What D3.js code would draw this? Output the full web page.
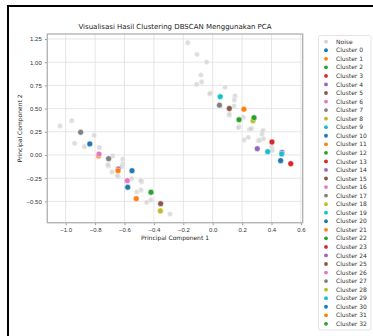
<!DOCTYPE html>
<html>
<head>
<meta charset="utf-8">
<script src="https://cdn.jsdelivr.net/npm/d3@7"></script>
<style>
  body { margin: 0; background: #fff; }
  svg { display: block; font-family: "DejaVu Sans", sans-serif; }
</style>
</head>
<body>
<div id="chart"></div>
<script>
// noise points (label -1)
const noiseX = [-1.039, -0.959, -0.939, -0.873, -0.807, -0.771, -0.68, -0.612, -0.71, -0.712, -0.685, -0.612,
  -0.619, -0.642, -0.648, -0.551, -0.483, -0.49, -0.488, -0.517, -0.42, -0.449, -0.29,
  -0.17, -0.107, -0.041, -0.08, -0.075, -0.109, -0.014, -0.02, 0.084, 0.152, 0.147, 0.145, 0.113, 0.113,
  0.208, 0.179, 0.175, 0.249, 0.265, 0.258, 0.344, 0.338, 0.335, 0.242, 0.213, 0.31, 0.32, 0.345, 0.401, 0.405];
const noiseY = [0.313, 0.37, 0.126, 0.09, 0.212, 0.081, -0.01, -0.045, -0.118, -0.105, -0.183, -0.097,
  -0.126, -0.234, -0.222, -0.255, -0.288, -0.275, -0.377, -0.399, -0.485, -0.51, -0.636,
  1.21, 1.085, 1.002, 0.862, 0.787, 0.762, 0.671, 0.66, 0.729, 0.636, 0.593, 0.528, 0.428, 0.44,
  0.406, 0.305, 0.295, 0.277, 0.288, 0.28, 0.266, 0.255, 0.223, 0.19, 0.162, 0.154, 0.16, 0.175, 0.09, 0.05];

// clustered points
const clusterLabel = [0, 1, 2, 4, 5, 6, 7, 8, 9, 10, 11, 12, 13, 14, 15, 16, 17, 18, 19, 20, 21, 22, 24, 27, 29, 30, 31, 3];
const clusterX = [-0.836, -0.776, -0.42, -0.642, -0.354, -0.773, -0.898, -0.356, 0.051, -0.549, -0.644, 0.179,
  0.531, 0.303, 0.113, -0.581, -0.708, 0.274, 0.374, -0.578, -0.52, 0.281, 0.471, 0.046, 0.469, 0.462, 0.212, 0.403];
const clusterY = [0.119, -0.007, -0.402, -0.151, -0.525, 0.01, 0.245, -0.603, 0.628, -0.169, -0.169, 0.38,
  -0.094, 0.068, 0.501, -0.277, -0.04, 0.37, 0.036, -0.348, -0.471, 0.402, 0.029, 0.537, 0.011, -0.061, 0.494, 0.14];

const clusterIds = d3.range(0, 33);
const xTicks = [-1.0, -0.8, -0.6, -0.4, -0.2, 0.0, 0.2, 0.4, 0.6];
const yTicks = [-0.5, -0.25, 0, 0.25, 0.5, 0.75, 1.0, 1.25];

const width = 373, height = 336;
const plot = { left: 47.3, right: 302.7, top: 34, bottom: 222.7 };

const svg = d3.select('#chart').append('svg')
  .attr('width', width)
  .attr('height', height);

// outer black frame (top and left visible)
svg.append('path')
  .attr('d', `M8,${height} L8,6 L${width},6`)
  .attr('fill', 'none')
  .attr('stroke', '#000')
  .attr('stroke-width', 2);

const x = d3.scaleLinear().domain([-1.125, 0.612]).range([plot.left, plot.right]);
const y = d3.scaleLinear().domain([-0.73, 1.304]).range([plot.bottom, plot.top]);
const color = d3.scaleOrdinal(d3.schemeCategory10).domain(d3.range(10));
const minus = s => s.replace('-', '\u2212');

// grid
svg.append('g').selectAll('line')
  .data(xTicks).enter().append('line')
  .attr('x1', d => x(d)).attr('x2', d => x(d))
  .attr('y1', plot.top).attr('y2', plot.bottom)
  .attr('stroke', '#e0e0e0').attr('stroke-width', 0.8);
svg.append('g').selectAll('line')
  .data(yTicks).enter().append('line')
  .attr('y1', d => y(d)).attr('y2', d => y(d))
  .attr('x1', plot.left).attr('x2', plot.right)
  .attr('stroke', '#e0e0e0').attr('stroke-width', 0.8);

// axes
const xAxis = svg.append('g')
  .attr('transform', `translate(0,${plot.bottom})`)
  .call(d3.axisBottom(x).tickValues(xTicks).tickSize(2.5).tickPadding(3)
    .tickFormat(d => minus(d3.format('.1f')(d))));
const yAxis = svg.append('g')
  .attr('transform', `translate(${plot.left},0)`)
  .call(d3.axisLeft(y).tickValues(yTicks).tickSize(2.5).tickPadding(3)
    .tickFormat(d => minus(d3.format('.2f')(d))));
[xAxis, yAxis].forEach(a => {
  a.select('.domain').remove();
  a.selectAll('.tick line').attr('stroke', '#555').attr('stroke-width', 0.6);
  a.selectAll('.tick text').attr('fill', '#333').style('font-size', '6px');
});

// spines
svg.append('rect')
  .attr('x', plot.left).attr('y', plot.top)
  .attr('width', plot.right - plot.left).attr('height', plot.bottom - plot.top)
  .attr('fill', 'none').attr('stroke', '#b5b5b5').attr('stroke-width', 1.4);

// noise
svg.append('g').selectAll('circle')
  .data(noiseX.map((d, i) => [d, noiseY[i]])).enter().append('circle')
  .attr('cx', d => x(d[0])).attr('cy', d => y(d[1]))
  .attr('r', 2.6)
  .attr('fill', '#d3d3d3').attr('fill-opacity', 0.75)
  .attr('stroke', '#fff').attr('stroke-width', 0.4);

// clusters
svg.append('g').selectAll('circle')
  .data(clusterX.map((d, i) => ({ x: d, y: clusterY[i], c: clusterLabel[i] }))
    .sort((a, b) => a.c - b.c)).enter().append('circle')
  .attr('cx', d => x(d.x)).attr('cy', d => y(d.y))
  .attr('r', 2.9)
  .attr('fill', d => color(d.c % 10))
  .attr('stroke', '#fff').attr('stroke-width', 0.5);

// titles
svg.append('text')
  .attr('x', (plot.left + plot.right) / 2).attr('y', 29)
  .attr('text-anchor', 'middle').attr('fill', '#222')
  .style('font-size', '7px')
  .text('Visualisasi Hasil Clustering DBSCAN Menggunakan PCA');
svg.append('text')
  .attr('x', (plot.left + plot.right) / 2).attr('y', 240)
  .attr('text-anchor', 'middle').attr('fill', '#222')
  .style('font-size', '6px')
  .text('Principal Component 1');
svg.append('text')
  .attr('transform', `translate(22,${(plot.top + plot.bottom) / 2}) rotate(-90)`)
  .attr('text-anchor', 'middle').attr('fill', '#222')
  .style('font-size', '6px')
  .text('Principal Component 2');

// legend
const legendItems = [{ name: 'Noise', fill: '#d3d3d3' }]
  .concat(clusterIds.map(c => ({ name: 'Cluster ' + c, fill: color(c % 10) })));
svg.append('rect')
  .attr('x', 318.5).attr('y', 35.5).attr('width', 52.5).attr('height', 294.5)
  .attr('rx', 2).attr('fill', '#fff').attr('stroke', '#dcdcdc').attr('stroke-width', 0.8);
const legend = svg.append('g').selectAll('g')
  .data(legendItems).enter().append('g')
  .attr('transform', (d, i) => `translate(0,${41.7 + i * 8.55})`);
legend.append('circle')
  .attr('cx', 326).attr('cy', 0).attr('r', 1.9)
  .attr('fill', d => d.fill);
legend.append('text')
  .attr('x', 336).attr('y', 0).attr('dy', '0.35em')
  .attr('fill', '#333').style('font-size', '6px')
  .text(d => d.name);
</script>
</body>
</html>
